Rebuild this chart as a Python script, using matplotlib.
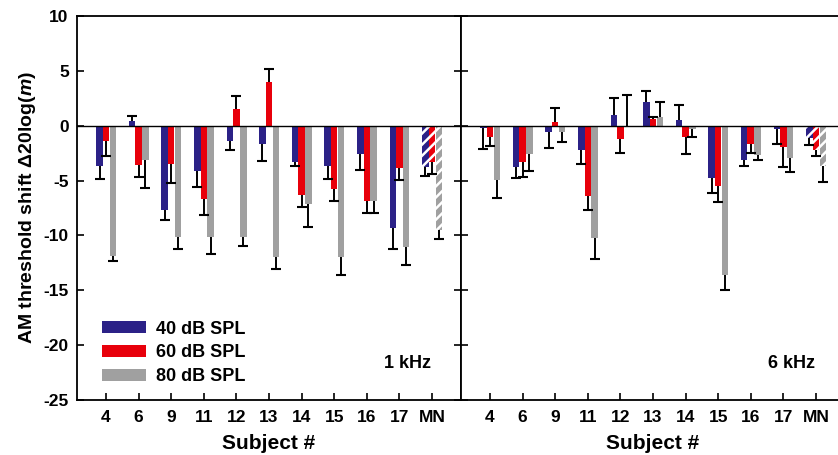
import numpy as np
import matplotlib
matplotlib.use("Agg")
import matplotlib.pyplot as plt
from matplotlib.patches import Patch

plt.rcParams["font.family"] = ["Liberation Sans", "DejaVu Sans"]
plt.rcParams["font.weight"] = "bold"
plt.rcParams["mathtext.fontset"] = "custom"
plt.rcParams["mathtext.it"] = "Liberation Sans:italic:bold"
plt.rcParams["hatch.linewidth"] = 1.8

subjects = ["4", "6", "9", "11", "12", "13", "14", "15", "16", "17", "MN"]
levels = ["40 dB SPL", "60 dB SPL", "80 dB SPL"]

# 1 kHz
k1_40 = [-3.7, 0.4, -7.7, -4.1, -1.4, -1.65, -3.3, -3.7, -2.6, -9.3, -3.75]
k1_60 = [-1.35, -3.6, -3.5, -6.7, 1.55, 3.95, -6.3, -5.75, -6.9, -3.85, -3.3]
k1_80 = [-11.9, -3.15, -10.1, -10.1, -10.1, -11.95, -7.15, -11.95, -6.9, -11.1, -9.5]
k1_40_err = [1.2, 0.45, 0.9, 1.5, 0.8, 1.55, 0.4, 1.2, 1.45, 1.95, 0.8]
k1_60_err = [1.45, 1.1, 1.7, 1.4, 1.2, 1.25, 1.1, 1.15, 1.1, 1.1, 1.1]
k1_80_err = [0.4, 2.5, 1.1, 1.6, 0.85, 1.15, 2.1, 1.65, 1.1, 1.55, 0.8]

# 6 kHz
k6_40 = [-0.25, -3.8, -0.6, -2.2, 1.0, 2.2, 0.55, -4.8, -3.1, -0.3, -1.1]
k6_60 = [-1.05, -3.35, 0.3, -6.4, -1.25, 0.65, -1.0, -5.45, -1.7, -1.9, -2.2]
k6_80 = [-4.95, -2.6, -0.6, -10.2, 0.0, 0.8, -0.3, -13.6, -2.7, -2.95, -3.7]
k6_40_err = [1.9, 1.0, 1.4, 1.3, 1.5, 0.95, 1.35, 1.35, 0.55, 1.35, 0.7]
k6_60_err = [0.8, 1.3, 1.3, 1.3, 1.25, 0.1, 1.55, 1.5, 0.75, 1.9, 0.6]
k6_80_err = [1.6, 1.5, 0.9, 1.95, 2.8, 1.35, 0.7, 1.4, 0.45, 1.3, 1.45]

colors = ["#2b2187", "#e8000b", "#a0a0a0"]
offsets = [-0.2, 0.0, 0.21]
width = 0.2

fig = plt.figure(figsize=(8.38, 4.55), dpi=100)
axL = fig.add_axes([0.0919, 0.1209, 0.4582, 0.8439])
axR = fig.add_axes([0.5501, 0.1209, 0.4582, 0.8439])

x = np.arange(len(subjects))

def draw_panel(ax, series, errs, label):
    for vals, err, col, off in zip(series, errs, colors, offsets):
        vals = np.array(vals)
        err = np.array(err)
        xs = x + off
        # last group (MN) is hatched
        ax.bar(xs[:-1], vals[:-1], width, color=col, linewidth=0, zorder=2)
        ax.bar(xs[-1:], vals[-1:], width, color=col, edgecolor="white",
               linewidth=0, hatch="///", zorder=2)
        sign = np.where(vals >= 0, 1, -1)
        tips = vals + sign * err
        ax.vlines(xs, vals, tips, color="black", linewidth=1.4, zorder=3)
        ax.plot(xs, tips, ls="none", marker="_", markersize=7.6,
                mew=1.5, color="black", zorder=3)
    ax.axhline(0, color="black", linewidth=1.0, zorder=4)
    ax.set_xlim(-0.89, 10.89)
    ax.set_ylim(-25, 10)
    ax.set_yticks(np.arange(-25, 11, 5))
    ax.set_xticks(x)
    ax.set_xticklabels(subjects, fontsize=12.5, fontweight="bold")
    ax.tick_params(direction="in", length=5, width=1.2, left=True, right=True,
                   top=False, bottom=True, pad=7)
    for sp in ax.spines.values():
        sp.set_linewidth(1.3)
    ax.set_xlabel("Subject #", fontsize=15, fontweight="bold", labelpad=7)
    ax.text(0.86, 0.095, label, transform=ax.transAxes, ha="center",
            va="center", fontsize=13, fontweight="bold")

draw_panel(axL, [k1_40, k1_60, k1_80], [k1_40_err, k1_60_err, k1_80_err], "1 kHz")
draw_panel(axR, [k6_40, k6_60, k6_80], [k6_40_err, k6_60_err, k6_80_err], "6 kHz")

axL.set_yticklabels([str(v) for v in np.arange(-25, 11, 5)], fontsize=12.5,
                    fontweight="bold")
axL.tick_params(axis="y", pad=6)
axR.tick_params(axis="y", labelleft=False)
axL.set_ylabel("AM threshold shift \u039420log($m$)", fontsize=14,
               fontweight="bold", labelpad=4)

handles = [Patch(facecolor=c, edgecolor="none") for c in colors]
axL.legend(handles, levels, loc="lower left", bbox_to_anchor=(0.045, 0.02),
           frameon=False, fontsize=13, handlelength=2.45, handleheight=0.65,
           labelspacing=0.37, handletextpad=0.55, borderaxespad=0)

fig.savefig("out.png", dpi=100)
